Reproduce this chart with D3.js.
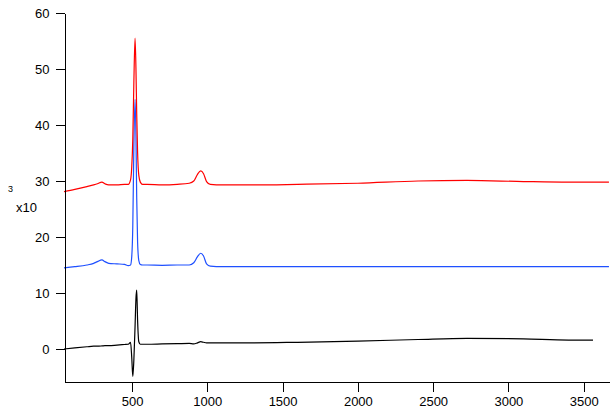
<!DOCTYPE html>
<html>
<head>
<meta charset="utf-8">
<script src="https://cdn.jsdelivr.net/npm/d3@7"></script>
<style>
  body { margin: 0; background: #fff; }
  svg { display: block; }
</style>
</head>
<body>
<div id="chart"></div>
<script>
// shared wavenumber grid
var wavenumber = [48, 120, 200, 245, 270, 300, 320, 345, 400, 450, 475, 490, 498, 505, 512, 520, 526, 531, 537, 545, 555, 570,
    600, 700, 800, 880, 910, 935, 956, 975, 995, 1020, 1100, 1300, 1600, 2000, 2400, 2725, 3100, 3400, 3562, 3668];

// intensities, in units of 10^3
var redSeries = [28.1, 28.5, 29.0, 29.3, 29.5, 29.8, 29.5, 29.3, 29.3, 29.4, 29.4, 30.2, 32.5, 37.5, 47.5, 55.5, 50.0, 42.0, 35.0, 31.0, 29.8, 29.4,
    29.4, 29.3, 29.4, 29.6, 30.0, 31.2, 31.8, 31.3, 29.9, 29.4, 29.3, 29.3, 29.4, 29.6, 30.0, 30.1, 29.9, 29.8, 29.8, 29.8];
var blueSeries = [14.5, 14.7, 15.0, 15.3, 15.6, 15.9, 15.6, 15.3, 15.2, 15.1, 14.9, 15.0, 16.5, 22.0, 36.0, 44.6, 38.0, 27.0, 19.0, 15.8, 15.1, 15.0,
    15.0, 14.95, 15.0, 15.0, 15.4, 16.5, 17.1, 16.6, 15.2, 14.8, 14.7, 14.7, 14.7, 14.7, 14.7, 14.7, 14.7, 14.7, 14.7, 14.7];
var blackSeries = [0.0, 0.2, 0.4, 0.5, 0.5, 0.55, 0.6, 0.6, 0.7, 0.8, 0.85, 1.2, -1.5, -4.9, -2.0, 4.0, 9.0, 10.5, 5.0, 1.3, 0.85, 0.85,
    0.85, 0.9, 0.95, 1.0, 0.9, 1.1, 1.3, 1.2, 1.1, 1.1, 1.1, 1.1, 1.2, 1.4, 1.7, 1.9, 1.8, 1.6, 1.6, null];

var xTicks = [500, 1000, 1500, 2000, 2500, 3000, 3500];
var yTicks = [0, 10, 20, 30, 40, 50, 60];

var series = [
    {name: "black", color: "#000000", values: blackSeries},
    {name: "blue", color: "#1f50ff", values: blueSeries},
    {name: "red", color: "#ff0000", values: redSeries}
];

var width = 610, height = 416;

var svg = d3.select("#chart")
    .append("svg")
    .attr("width", width)
    .attr("height", height)
    .style("font-family", "Arial, 'Liberation Sans', sans-serif");

var x = d3.scaleLinear().domain([48, 3675]).range([64, 610]);
var y = d3.scaleLinear().domain([-5.714, 60]).range([381, 13]);

var line = d3.line()
    .defined(function (d) { return d[1] !== null; })
    .x(function (d) { return x(d[0]); })
    .y(function (d) { return y(d[1]); })
    .curve(d3.curveMonotoneX);

svg.append("g")
    .selectAll("path")
    .data(series)
    .enter()
    .append("path")
    .attr("fill", "none")
    .attr("stroke", function (d) { return d.color; })
    .attr("stroke-width", 1.2)
    .attr("d", function (d) {
        return line(wavenumber.map(function (w, i) { return [w, d.values[i]]; }));
    });

// axes
var xAxis = svg.append("g")
    .attr("transform", "translate(0,381.5)")
    .call(d3.axisBottom(x).tickValues(xTicks).tickFormat(d3.format("d"))
        .tickSize(10).tickSizeOuter(0).tickPadding(5));
var yAxis = svg.append("g")
    .attr("transform", "translate(64.5,0)")
    .call(d3.axisLeft(y).tickValues(yTicks).tickFormat(d3.format("d"))
        .tickSize(9).tickSizeOuter(0).tickPadding(6));

[xAxis, yAxis].forEach(function (g) {
    g.selectAll("path, line").attr("stroke", "#000").attr("shape-rendering", "crispEdges");
    g.selectAll("text").attr("fill", "#000").style("font-size", "13px").style("font-family", "Arial, 'Liberation Sans', sans-serif");
});

// the odd Igor-style exponent label
svg.append("text")
    .attr("x", 8)
    .attr("y", 192)
    .style("font-size", "9px")
    .text("3");
svg.append("text")
    .attr("x", 16)
    .attr("y", 212)
    .style("font-size", "13px")
    .text("x10");
</script>
</body>
</html>
